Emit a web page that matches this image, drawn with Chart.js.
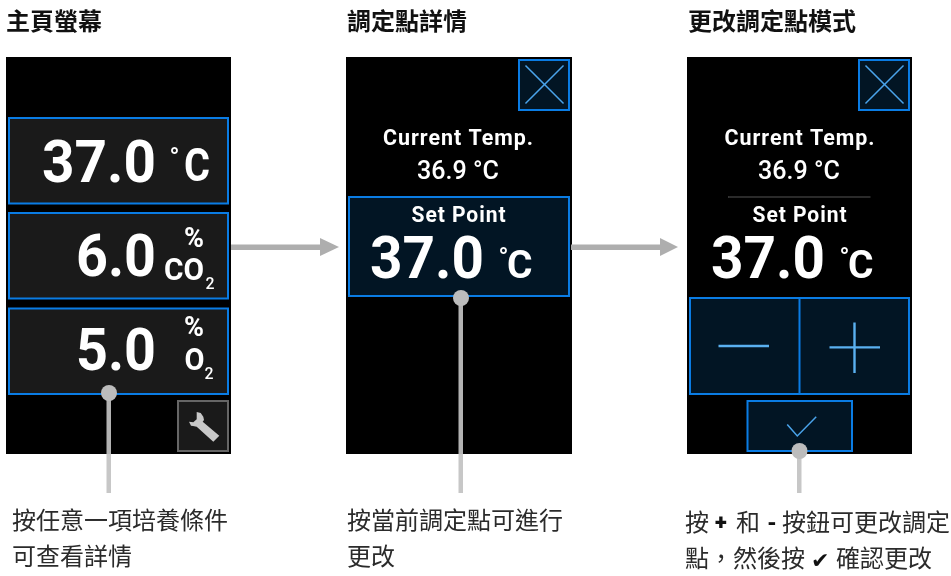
<!DOCTYPE html>
<html>
<head>
<meta charset="utf-8">
<title>調定點</title>
<script src="https://cdn.jsdelivr.net/npm/chart.js@4/dist/chart.umd.min.js"></script>
<style>
  html, body { margin: 0; padding: 0; background: #fff; }
  canvas { display: block; }
</style>
</head>
<body>
<canvas id="chart" width="951" height="576"></canvas>
<script>
// values shown on the screens
const screenTitles = ['主頁螢幕', '調定點詳情', '更改調定點模式'];
const readings = ['37.0', '6.0', '5.0'];
const readingGases = ['', 'CO', 'O'];
const currentLabel = 'Current Temp.';
const currentTemp = '36.9 °C';
const setPointLabel = 'Set Point';
const setPointValue = '37.0';
const captionOne = ['按任意一項培養條件', '可查看詳情'];
const captionTwo = ['按當前調定點可進行', '更改'];

// colours
const BLUE = '#0a7ce4', LINE = '#4aa3ea', NAVY = '#021524', DARK = '#1a1a1a', SIGN = '#5ab0f0';
const GREY = 'rgba(194,194,194,.92)', ARROW = '#aeaeae';
const CJK = '"Noto Sans CJK TC"', DIN = 'Roboto';

const datasets = [];

function poly(pts, fill, stroke, width) {
  datasets.push({
    data: pts.map(p => ({ x: p[0], y: p[1] })),
    showLine: true, pointRadius: 0, clip: false,
    borderColor: stroke || 'transparent', borderWidth: width || 0,
    backgroundColor: fill || 'transparent', fill: fill ? 'shape' : false,
    borderJoinStyle: 'miter', borderCapStyle: 'square', tension: 0
  });
}
function rect(x0, y0, x1, y1, fill, stroke, width) {
  poly([[x0, y0], [x1, y0], [x1, y1], [x0, y1], [x0, y0]], fill, stroke, width);
}
function seg(x0, y0, x1, y1, stroke, width) {
  poly([[x0, y0], [x1, y1]], null, stroke, width);
}
// layout overflow only looks at first and last point, so the big one goes in the middle
function dot(x, y) {
  const p = { x, y };
  datasets.push({
    data: [p, p, p], showLine: true, borderWidth: 0, clip: false,
    pointRadius: [0, 8, 0], pointBorderWidth: 0, pointBackgroundColor: '#bcbcbc'
  });
}
function closeBtn(x0, x1) {
  rect(x0, 60, x1, 110, NAVY, BLUE, 2);
  seg(x0 + 7, 66, x1 - 6, 103, LINE, 1.5);
  seg(x1 - 6, 66, x0 + 7, 103, LINE, 1.5);
}
function arrow(x0, x1, tip) {
  rect(x0, 244.5, x1, 250, ARROW);
  poly([[x1, 238], [tip, 247], [x1, 256], [x1, 238]], ARROW);
}

// screens
rect(6, 57, 231, 454, '#000');
rect(346, 57, 572, 454, '#000');
rect(687, 57, 912, 454, '#000');

// home screen rows
rect(9, 118, 228, 203.5, DARK, BLUE, 2);
rect(9, 213, 228, 298.5, DARK, BLUE, 2);
rect(9, 308.5, 228, 394, DARK, BLUE, 2);
rect(178, 401, 228, 451, DARK, '#666', 2);
poly([[189, 421.7], [193.3, 422.3], [196.7, 419.3], [196.7, 412], [200.7, 413], [203.3, 416.7], [204, 420],
      [202.7, 421.7], [219.3, 435.7], [213.3, 441.7], [196.7, 426.7], [193, 426], [191, 425.7], [189, 421.7]], '#c8c8c8');

// detail screen
closeBtn(519, 569);
rect(349, 197, 569, 296, NAVY, BLUE, 2);

// edit screen
closeBtn(859, 909);
seg(728, 197, 870, 197, '#555', 1);
rect(690, 298, 909, 394, NAVY, BLUE, 2);
seg(799.5, 298, 799.5, 394, BLUE, 2);
rect(718.5, 344.8, 769, 347.2, SIGN);
rect(829.5, 346.2, 880, 348.6, SIGN);
rect(853.3, 322.5, 855.7, 373, SIGN);
rect(747.5, 401, 852, 451, NAVY, BLUE, 2);
poly([[787.7, 425], [797.3, 436], [815.7, 417.3]], null, LINE, 1.5);

// arrows
arrow(231, 320, 339);
arrow(571, 660, 678);

// callouts
rect(106.5, 393, 111, 493, GREY);
dot(109, 393);
rect(458.5, 298, 463, 493, GREY);
dot(461, 298);
rect(797, 451, 801.5, 493, GREY);
dot(799.5, 451);

datasets.forEach((d, i) => { d.order = -i; });

function txt(t, x, y, size, opts) {
  return Object.assign({ t, x, y, size, weight: 700, color: '#fff', font: DIN, align: 'left' }, opts);
}
const ink = { font: CJK, weight: 400, color: '#2b2b2b' };
const head = { font: CJK, weight: 700, color: '#111' };
const mark = { font: 'Roboto', weight: 900, color: '#111' };

const texts = [
  txt(screenTitles[0], 6, 30, 24, head),
  txt(screenTitles[1], 347, 30, 24, head),
  txt(screenTitles[2], 688, 30, 24, head),

  // home rows
  txt(readings[0], 42, 181.5, 60, { w: 114 }),
  txt('°', 169.5, 166, 26, { w: 10 }),
  txt('C', 184, 180.5, 46, { w: 26 }),
  txt(readings[1], 76, 275.5, 60, { w: 80 }),
  txt('%', 184, 246.5, 27, { w: 23 }),
  txt(readingGases[1], 164, 280, 32, { w: 40 }),
  txt('2', 205.5, 288.5, 17, { weight: 500, w: 9 }),
  txt(readings[2], 76, 370, 60, { w: 80 }),
  txt('%', 184, 336, 27, { w: 23 }),
  txt(readingGases[2], 184.5, 370, 32, { w: 20 }),
  txt('2', 204.5, 378.5, 17, { weight: 500, w: 9 }),

  // detail
  txt(currentLabel, 458.5, 145, 22, { align: 'center', spacing: '1px', w: 151 }),
  txt(currentTemp, 458, 179, 26, { weight: 500, align: 'center', w: 82 }),
  txt(setPointLabel, 459, 221.5, 22, { align: 'center', spacing: '1px', w: 95 }),
  txt(setPointValue, 370, 277.5, 60, { w: 114 }),
  txt('°', 498.5, 266, 26, { w: 10 }),
  txt('C', 507, 278, 39, { w: 26 }),

  // edit
  txt(currentLabel, 800, 145, 22, { align: 'center', spacing: '1px', w: 151 }),
  txt(currentTemp, 799, 179, 26, { weight: 500, align: 'center', w: 82 }),
  txt(setPointLabel, 800, 221.5, 22, { align: 'center', spacing: '1px', w: 95 }),
  txt(setPointValue, 711, 277.5, 60, { w: 114 }),
  txt('°', 839.5, 266, 26, { w: 10 }),
  txt('C', 848, 278, 39, { w: 26 }),

  // captions
  txt(captionOne[0], 12, 529, 24, ink),
  txt(captionOne[1], 12, 565, 24, ink),
  txt(captionTwo[0], 347, 529, 24, ink),
  txt(captionTwo[1], 347, 565, 24, ink),
  txt('按', 685, 531, 24, ink),
  txt('+', 715, 530, 22, mark),
  txt('和', 736, 531, 24, ink),
  txt('-', 767, 530, 22, mark),
  txt('按鈕可更改調定', 782, 531, 24, ink),
  txt('點，然後按', 685, 567, 24, ink),
  txt('✔', 811, 568, 22, { font: '"DejaVu Sans"', weight: 400, color: '#111' }),
  txt('確認更改', 836, 567, 24, ink)
];

const textPlugin = {
  id: 'screenText',
  afterDatasetsDraw(chart) {
    const { ctx, scales: { x, y } } = chart;
    ctx.save();
    ctx.textBaseline = 'alphabetic';
    texts.forEach(o => {
      ctx.font = o.weight + ' ' + o.size + 'px ' + o.font;
      ctx.fillStyle = o.color;
      ctx.textAlign = o.align;
      ctx.letterSpacing = o.spacing || '0px';
      if (o.w) ctx.fillText(o.t, x.getPixelForValue(o.x), y.getPixelForValue(o.y), o.w);
      else ctx.fillText(o.t, x.getPixelForValue(o.x), y.getPixelForValue(o.y));
    });
    ctx.restore();
  }
};

new Chart(document.getElementById('chart'), {
  type: 'scatter',
  data: { datasets },
  plugins: [textPlugin],
  options: {
    responsive: false,
    animation: false,
    devicePixelRatio: 1,
    layout: { padding: 0 },
    plugins: { legend: { display: false }, tooltip: { enabled: false } },
    scales: {
      x: { type: 'linear', min: 0, max: 951, display: false },
      y: { type: 'linear', min: 0, max: 576, reverse: true, display: false }
    }
  }
});
</script>
</body>
</html>
